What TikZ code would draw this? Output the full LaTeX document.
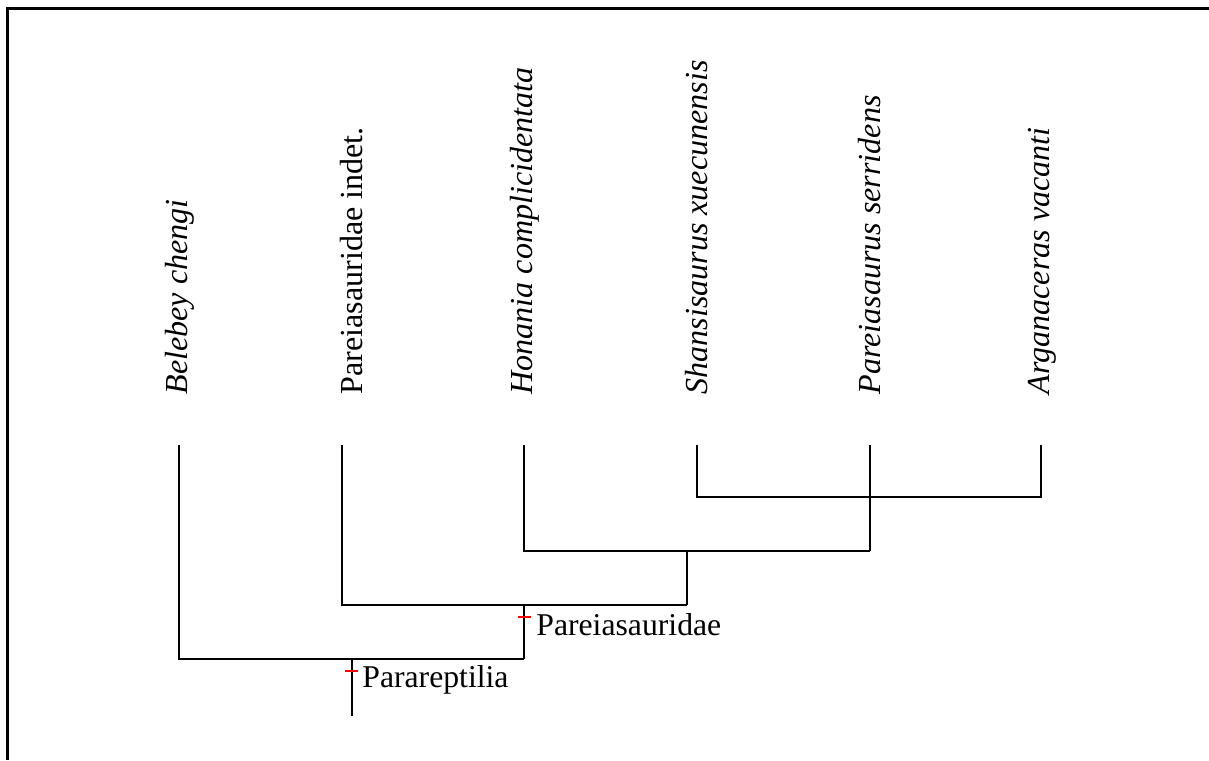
\documentclass[tikz,border=0pt]{standalone}
\usepackage{fontspec}
\setmainfont{Liberation Serif}
\begin{document}
\begin{tikzpicture}[x=0.5pt,y=-0.5pt,
  taxon/.style={rotate=90,anchor=base west,inner sep=0pt,font=\fontsize{16.05}{19}\selectfont},
  clade/.style={anchor=base west,inner sep=0pt,font=\fontsize{15.85}{19}\selectfont},
  branch/.style={line width=1.1pt,black},
  tick/.style={line width=1.1pt,red}]
\useasboundingbox (0,0) rectangle (1209,760);
% frame
\draw[line width=1.5pt] (7,760) -- (7,8.5) -- (1209,8.5);
% taxon labels
\node[taxon] (tB) at (187,395) {\itshape Belebey chengi};
\node[taxon] (tP) at (362,395) {Pareiasauridae indet.};
\node[taxon] (tH) at (532,395) {\itshape Honania complicidentata};
\node[taxon] (tS) at (707,395) {\itshape Shansisaurus xuecunensis};
\node[taxon] (tPs) at (880,395) {\itshape Pareiasaurus serridens};
\node[taxon] (tA) at (1049,395) {\itshape Arganaceras vacanti};
% tips
\coordinate (B) at (179,445);
\coordinate (P) at (342,445);
\coordinate (H) at (524,445);
\coordinate (S) at (697,445);
\coordinate (Ps) at (870,445);
\coordinate (A) at (1041,445);
% internal nodes (where each clade's stem starts)
\coordinate (n1) at (870,497);   % (S,A)
\coordinate (n2) at (687,551);   % (H,(S,Ps,A))
\coordinate (n3) at (524,605);   % Pareiasauridae
\coordinate (n4) at (352,659);   % Parareptilia
\coordinate (root) at (352,716);
% bottoms of stems
\coordinate (n1b) at (870,551);
\coordinate (n2b) at (687,605);
\coordinate (n3b) at (524,659);
% branches
\draw[branch] (S) |- (n1) -| (A);
\draw[branch] (Ps) -- (n1b);
\draw[branch] (H) |- (n1b);
\draw[branch] (n2) -- (n2b);
\draw[branch] (P) |- (n2b);
\draw[branch] (n3) -- (n3b);
\draw[branch] (B) |- (n3b);
\draw[branch] (n4) -- (root);
% clade ticks
\coordinate (tk1) at (524,617);
\coordinate (tk2) at (352,671);
\draw[tick] ([xshift=-3pt]tk1) -- ([xshift=3.5pt]tk1);
\draw[tick] ([xshift=-3.5pt]tk2) -- ([xshift=3pt]tk2);
\node[clade] (cPa) at (536,635) {Pareiasauridae};
\node[clade] (cPr) at (362,687) {Parareptilia};
\end{tikzpicture}
\end{document}
